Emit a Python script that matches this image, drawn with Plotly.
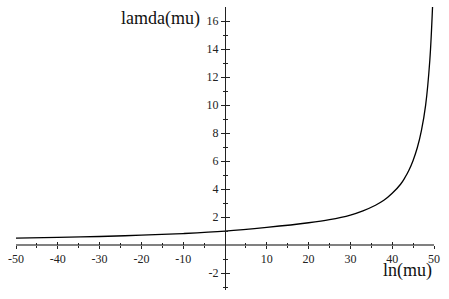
import plotly.graph_objects as go

# curve values
mu_ln = [-50, -40, -30, -20, -10, 0, 10, 20, 25, 30, 33, 36, 38, 40, 42, 43, 44, 45, 46, 47, 48, 49, 49.65]
lamda = [0.5, 0.55, 0.62, 0.71, 0.83, 1.0, 1.27, 1.6, 1.82, 2.15, 2.45, 2.85, 3.2, 3.7, 4.35, 4.8, 5.35, 6.05, 6.95, 8.2, 10.0, 13.2, 17.0]

x_major = [-50, -40, -30, -20, -10, 10, 20, 30, 40, 50]
x_minor = [-45, -35, -25, -15, -5, 5, 15, 25, 35, 45]
y_major = [-2, 2, 4, 6, 8, 10, 12, 14, 16]
y_minor = [-3, -1, 1, 3, 5, 7, 9, 11, 13, 15]

x_range = [-50, 50]
y_range = [-3.2, 17]

xpos = (0 - y_range[0]) / (y_range[1] - y_range[0])
ypos = (0 - x_range[0]) / (x_range[1] - x_range[0])

font_serif = "Liberation Serif"

fig = go.Figure()
fig.add_trace(go.Scatter(x=mu_ln, y=lamda, mode="lines", line=dict(color="black", width=1.3, shape="spline", smoothing=1.0),
                         hoverinfo="skip", showlegend=False))
fig.add_trace(go.Scatter(x=[], y=[], xaxis="x2", yaxis="y2", showlegend=False))

tickfont = dict(family=font_serif, size=12, color="#222")

fig.update_layout(
    width=449, height=299,
    margin=dict(l=16, r=15, t=7, b=9, autoexpand=False),
    paper_bgcolor="white", plot_bgcolor="white",
    xaxis=dict(range=x_range, anchor="free", position=xpos, showgrid=False, zeroline=False, automargin=False,
               showline=True, linecolor="#808080", linewidth=1.5,
               tickmode="array", tickvals=x_major, ticktext=[str(v) for v in x_major],
               ticks="outside", ticklen=3, tickcolor="#222", tickwidth=1, tickfont=tickfont,
               minor=dict(tickmode="array", tickvals=x_minor, ticks="outside", ticklen=2, tickcolor="#222")),
    xaxis2=dict(range=x_range, overlaying="x", anchor="free", position=xpos, showgrid=False, zeroline=False,
                automargin=False, showline=False, tickmode="array", tickvals=x_major, showticklabels=False,
                ticks="inside", ticklen=3, tickcolor="#222", tickwidth=1,
                minor=dict(tickmode="array", tickvals=x_minor, ticks="inside", ticklen=2, tickcolor="#222")),
    yaxis=dict(range=y_range, anchor="free", position=ypos, showgrid=False, zeroline=False, automargin=False,
               showline=True, linecolor="#222", linewidth=1.2,
               tickmode="array", tickvals=y_major, ticktext=[str(v) for v in y_major],
               ticks="outside", ticklen=4, tickcolor="#222", tickwidth=1, tickfont=tickfont,
               minor=dict(tickmode="array", tickvals=y_minor, ticks="outside", ticklen=2, tickcolor="#222")),
    yaxis2=dict(range=y_range, overlaying="y", anchor="free", position=ypos, showgrid=False, zeroline=False,
                automargin=False, showline=False, tickmode="array", tickvals=y_major, showticklabels=False,
                ticks="inside", ticklen=4, tickcolor="#222", tickwidth=1,
                minor=dict(tickmode="array", tickvals=y_minor, ticks="inside", ticklen=2, tickcolor="#222")),
    annotations=[
        dict(text="lamda(mu)", x=-5.5, y=16.2, xref="x", yref="y", xanchor="right", yanchor="middle",
             showarrow=False, font=dict(family=font_serif, size=18, color="#111")),
        dict(text="ln(mu)", x=49.9, y=-1.8, xref="x", yref="y", xanchor="right", yanchor="middle",
             showarrow=False, font=dict(family=font_serif, size=18, color="#111")),
    ],
)

fig.write_html("out.html", config={"displayModeBar": False},
               post_script="document.body.style.margin='0';document.body.style.padding='0';")
